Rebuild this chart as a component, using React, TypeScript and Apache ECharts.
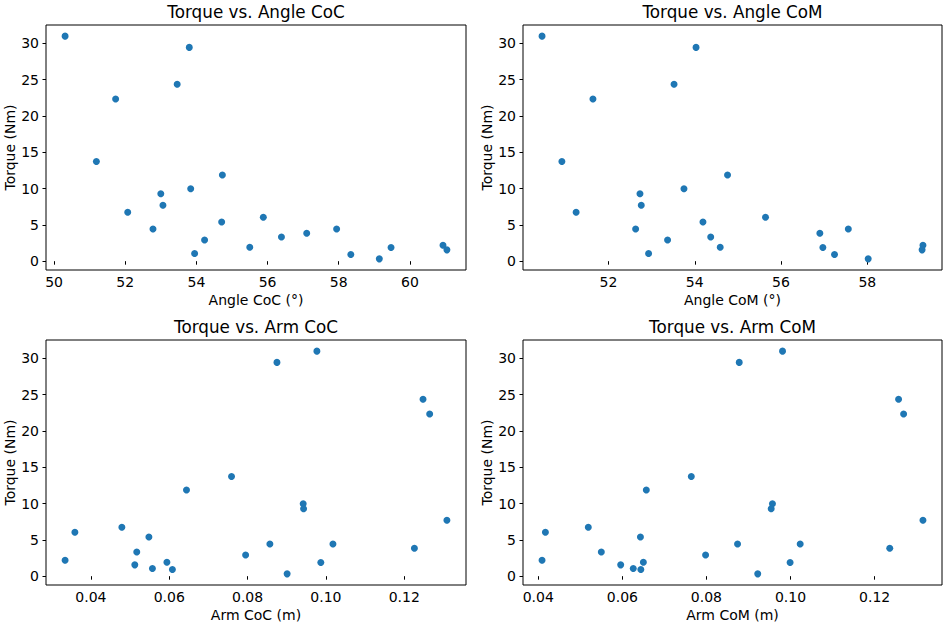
import React, { useEffect, useRef } from "react";
import * as echarts from "echarts";

const torque = [31.0, 29.45, 24.37, 22.35, 13.74, 11.86, 9.99, 9.3, 7.7, 6.73, 6.05, 5.41, 4.44, 4.44, 3.85, 3.34, 2.93, 1.92, 1.88, 2.2, 1.56, 1.05, 0.92, 0.32];
const angleCoC = [50.31, 53.8, 53.46, 51.73, 51.19, 54.73, 53.84, 53.0, 53.06, 52.07, 55.88, 54.71, 52.78, 57.94, 57.1, 56.39, 54.23, 55.5, 59.47, 60.93, 61.04, 53.95, 58.34, 59.14];
const angleCoM = [50.46, 54.03, 53.52, 51.64, 50.92, 54.76, 53.75, 52.73, 52.76, 51.25, 55.64, 54.19, 52.63, 57.56, 56.9, 54.37, 53.37, 54.59, 56.97, 59.29, 59.27, 52.93, 57.24, 58.02];
const armCoC = [0.0977, 0.0875, 0.1248, 0.1265, 0.0759, 0.0644, 0.0942, 0.0943, 0.1309, 0.0479, 0.0359, 0.0548, 0.0857, 0.1018, 0.1226, 0.0517, 0.0795, 0.0594, 0.0987, 0.0334, 0.0512, 0.0557, 0.0608, 0.0901];
const armCoM = [0.0981, 0.0878, 0.1257, 0.1269, 0.0764, 0.0657, 0.0957, 0.0954, 0.1315, 0.0519, 0.0417, 0.0643, 0.0874, 0.1023, 0.1236, 0.055, 0.0798, 0.065, 0.0999, 0.0409, 0.0596, 0.0626, 0.0644, 0.0922];

const yTicks = [0, 5, 10, 15, 20, 25, 30];
const angleCoCTicks = [50, 52, 54, 56, 58, 60];
const angleCoMTicks = [52, 54, 56, 58];
const armTicks = [0.04, 0.06, 0.08, 0.1, 0.12];

const titles = ["Torque vs. Angle CoC", "Torque vs. Angle CoM", "Torque vs. Arm CoC", "Torque vs. Arm CoM"];
const xNames = ["Angle CoC (°)", "Angle CoM (°)", "Arm CoC (m)", "Arm CoM (m)"];
const yName = "Torque (Nm)";

const FONT = "DejaVu Sans";

function padRange(arr: number[]) {
  const lo = Math.min(...arr);
  const hi = Math.max(...arr);
  const m = (hi - lo) * 0.05;
  return [lo - m, hi + m];
}

export default function App() {
  const ref = useRef<HTMLDivElement>(null);
  useEffect(() => {
    if (!ref.current) return;
    const chart = echarts.init(ref.current, null, { renderer: "svg" });
    const grids = [
      { left: 46, top: 25, width: 420, height: 245 },
      { left: 523, top: 25, width: 419, height: 245 },
      { left: 46, top: 340, width: 420, height: 245 },
      { left: 523, top: 340, width: 419, height: 245 },
    ];
    const xs = [angleCoC, angleCoM, armCoC, armCoM];
    const xTickSets = [angleCoCTicks, angleCoMTicks, armTicks, armTicks];
    const yr = padRange(torque);
    const fmtArm = (v: number) => v.toFixed(2);
    const option: any = {
      animation: false,
      backgroundColor: "#fff",
      title: grids.map((g, i) => ({
        text: titles[i],
        left: g.left + g.width / 2,
        top: g.top - 22,
        textAlign: "center",
        padding: 0,
        textStyle: { fontFamily: FONT, fontSize: 16.8, fontWeight: "normal", color: "#000" },
      })),
      grid: grids.map((g) => ({ ...g, show: true, borderColor: "#000", borderWidth: 1, backgroundColor: "transparent" })),
      xAxis: grids.map((g, i) => {
        const r = padRange(xs[i]);
        return {
          type: "value",
          gridIndex: i,
          min: r[0],
          max: r[1],
          name: xNames[i],
          nameLocation: "middle",
          nameGap: 23,
          nameTextStyle: { fontFamily: FONT, fontSize: 14, color: "#000" },
          axisLine: { show: false },
          splitLine: { show: false },
          axisTick: { show: true, length: 3.5, customValues: xTickSets[i], lineStyle: { color: "#000", width: 1 } },
          axisLabel: {
            customValues: xTickSets[i],
            margin: 5,
            fontFamily: FONT,
            fontSize: 14,
            color: "#000",
            formatter: i >= 2 ? fmtArm : (v: number) => String(v),
          },
        };
      }),
      yAxis: grids.map((g, i) => ({
        type: "value",
        gridIndex: i,
        min: yr[0],
        max: yr[1],
        name: yName,
        nameLocation: "middle",
        nameGap: 27,
        nameTextStyle: { fontFamily: FONT, fontSize: 14, color: "#000" },
        axisLine: { show: false },
        splitLine: { show: false },
        axisTick: { show: true, length: 3.5, customValues: yTicks, lineStyle: { color: "#000", width: 1 } },
        axisLabel: {
          customValues: yTicks,
          margin: 7,
          fontFamily: FONT,
          fontSize: 14,
          color: "#000",
        },
      })),
      series: xs.map((arr, i) => ({
        type: "scatter",
        xAxisIndex: i,
        yAxisIndex: i,
        symbolSize: 7,
        itemStyle: { color: "#1f77b4", opacity: 1 },
        data: arr.map((x, k) => [x, torque[k]]),
      })),
    };
    chart.setOption(option);
    return () => chart.dispose();
  }, []);
  return (
    <div
      ref={ref}
      style={{ position: "absolute", left: 0, top: 0, width: 944, height: 626 }}
    />
  );
}
